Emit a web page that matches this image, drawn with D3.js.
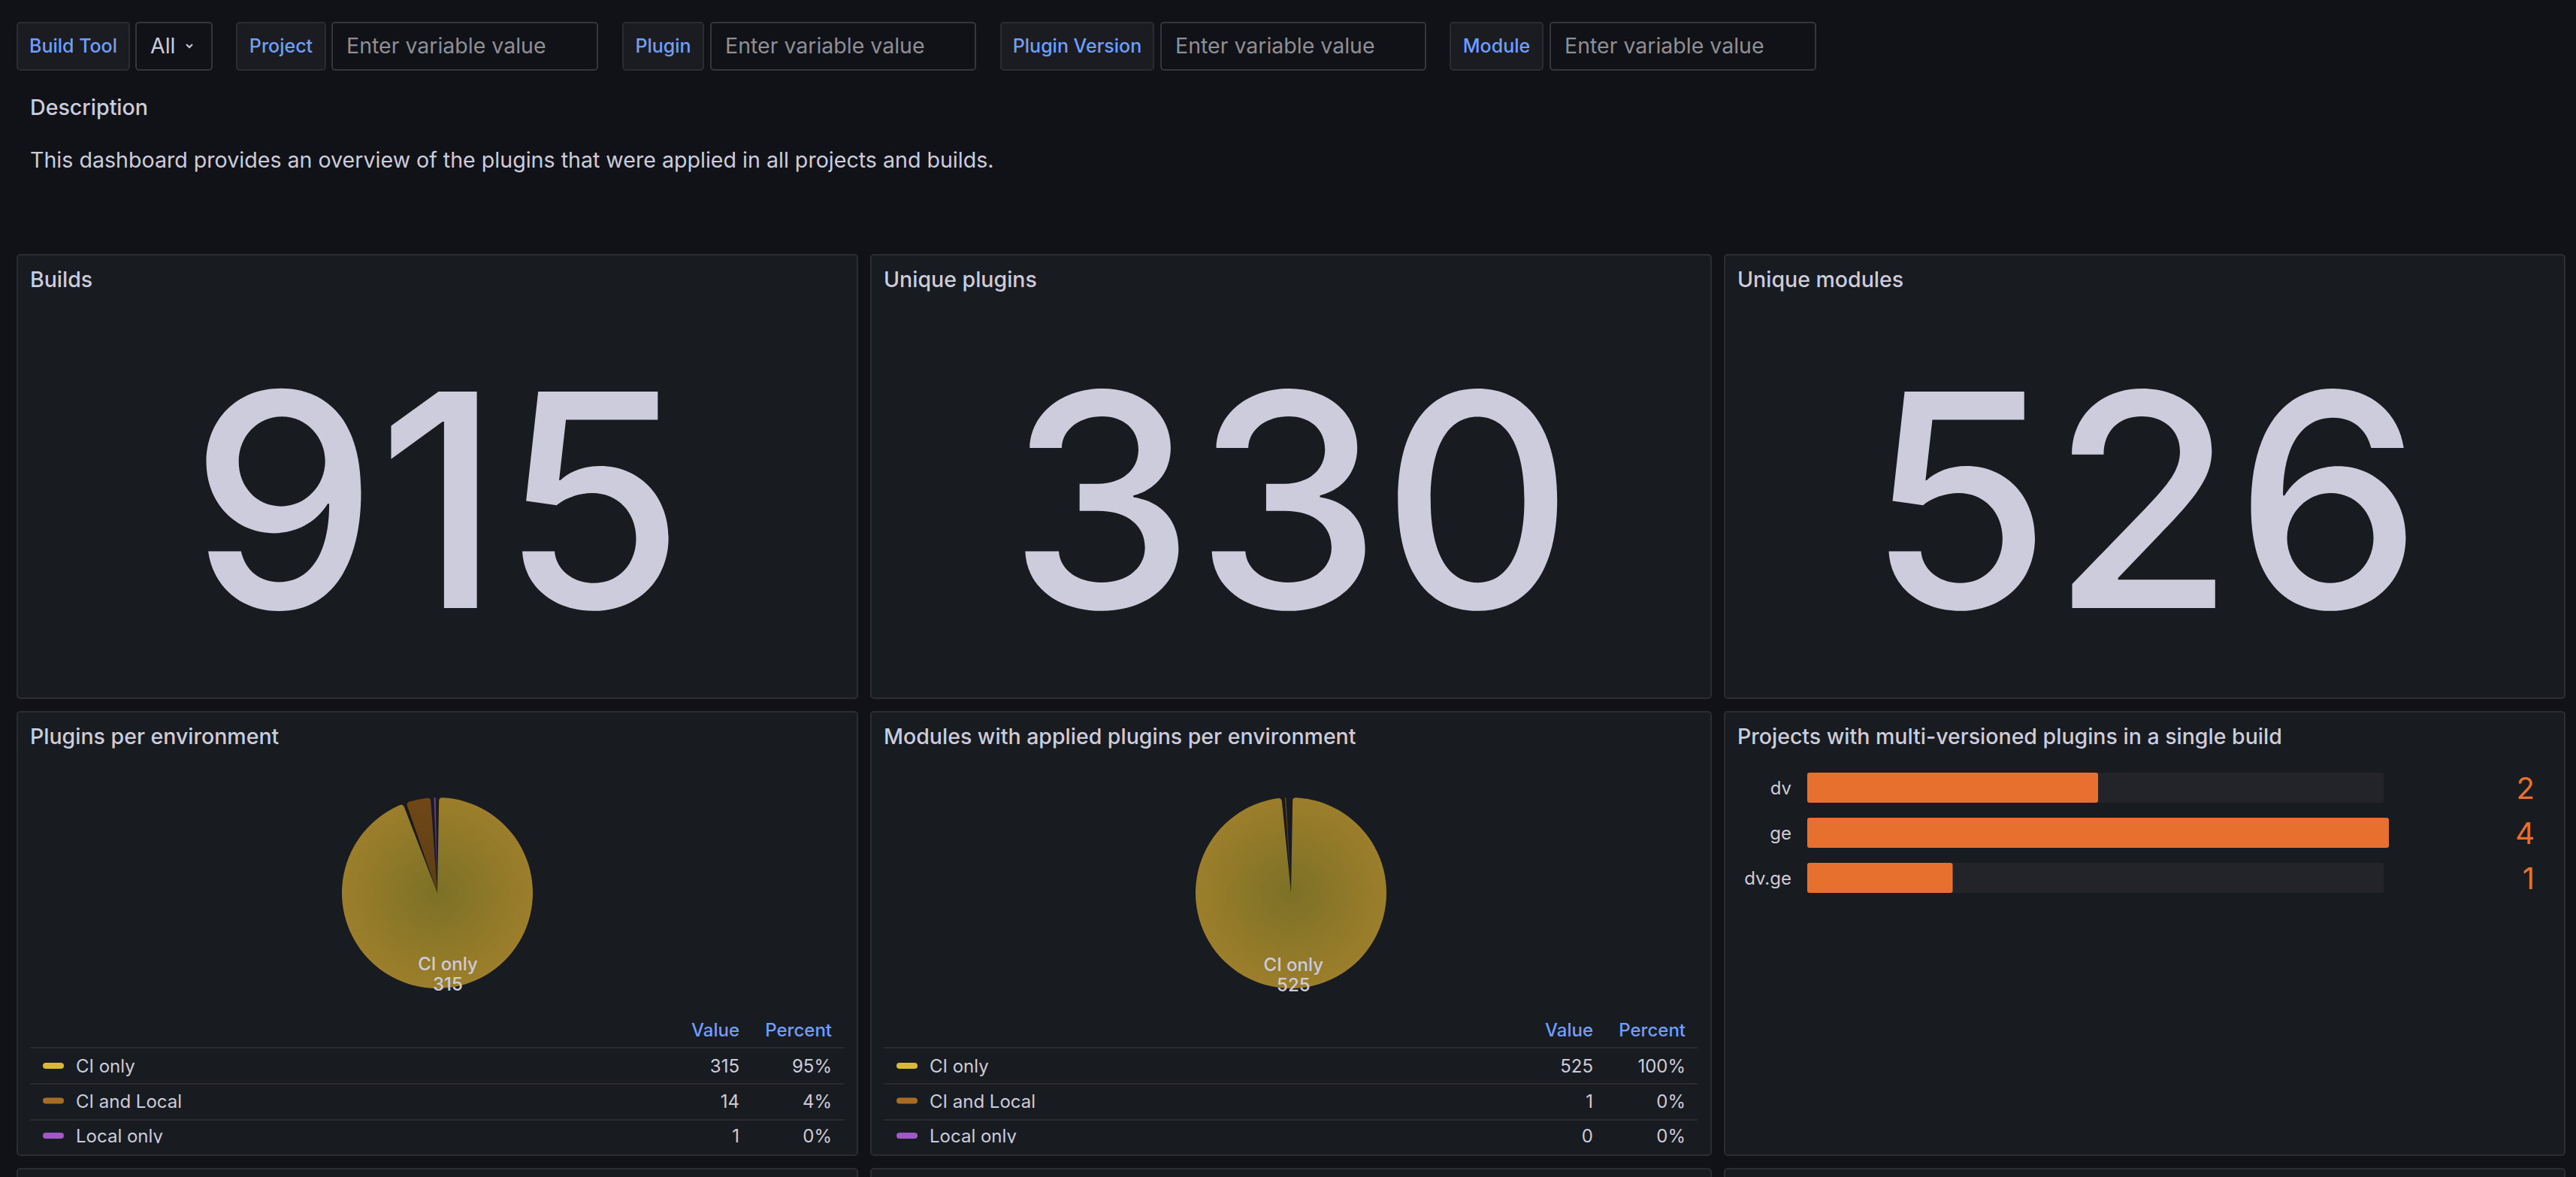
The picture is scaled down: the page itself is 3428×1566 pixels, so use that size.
<!DOCTYPE html>
<html>
<head>
<meta charset="utf-8">
<script src="https://cdn.jsdelivr.net/npm/d3@7"></script>
<style>
  html, body { margin: 0; padding: 0; background: #111217; overflow: hidden; }
  svg { display: block; font-family: Inter, "Noto Sans", sans-serif; }
</style>
</head>
<body>
<script>
// dashboard variables
const varLabels = ["Build Tool", "Project", "Plugin", "Plugin Version", "Module"]
const varValues = ["All", "", "", "", ""]
const placeholder = "Enter variable value"

const descTitle = "Description"
const descText = "This dashboard provides an overview of the plugins that were applied in all projects and builds."

// stat panels
const statTitles = ["Builds", "Unique plugins", "Unique modules"]
const statValues = [915, 330, 526]

// pie panels
const pieTitles = ["Plugins per environment", "Modules with applied plugins per environment"]
const envCategories = ["CI only", "CI and Local", "Local only"]
const pluginsPerEnv = [315, 14, 1]
const modulesPerEnv = [525, 1, 0]

// bar gauge
const barTitle = "Projects with multi-versioned plugins in a single build"
const multiProjects = ["dv", "ge", "dv.ge"]
const multiCounts = [2, 4, 1]

// colours
const envColors = ["#dcb83a", "#a96c25", "#a05ac8"]
const pieCenter = ["#7c7126", "#5b3e15", "#4d2c66"]
const pieEdge = ["#9c7e2b", "#704717", "#6b3a8c"]

const W = 3428, H = 1566
const bg = "#111217", panelBg = "#181b1f", border = "#2b2d33"
const textCol = "#ccccdc", blue = "#6e9fff"

const svg = d3.select("body").append("svg").attr("width", W).attr("height", H)
const defs = svg.append("defs")

// ---- variable bar ----
// label box x / width, input box x / width (layout)
const varLabelX = [23, 315, 829, 1332, 1930], varLabelW = [149, 118, 107, 203, 123]
const varInputX = [181, 442, 946, 1545, 2063], varInputW = [101, 353, 352, 352, 353]
const varg = svg.append("g")
varLabels.forEach((lab, i) => {
    let lg = varg.append("g")
    lg.append("rect").attr("x", varLabelX[i]).attr("y", 30).attr("width", varLabelW[i]).attr("height", 63)
        .attr("rx", 4).attr("fill", "#1b1c21").attr("stroke", "#2b2c31").attr("stroke-width", 2)
    lg.append("text").attr("x", varLabelX[i] + varLabelW[i] / 2).attr("y", 70).attr("text-anchor", "middle")
        .attr("font-size", 25).attr("font-weight", 500).attr("fill", blue).text(lab)
    let ix = varInputX[i], iw = varInputW[i]
    lg.append("rect").attr("x", ix).attr("y", 30).attr("width", iw).attr("height", 63)
        .attr("rx", 4).attr("fill", bg).attr("stroke", "#35363c").attr("stroke-width", 2)
    if (varValues[i] != "") {
        lg.append("text").attr("x", ix + 19).attr("y", 71).attr("font-size", 28.5)
            .attr("fill", textCol).text(varValues[i])
        lg.append("path").attr("d", `M${ix + 67},${59} l4,4 l4,-4`)
            .attr("fill", "none").attr("stroke", textCol).attr("stroke-width", 2)
    } else {
        lg.append("text").attr("x", ix + 19).attr("y", 71).attr("font-size", 28.5)
            .attr("fill", "#8e8e95").text(placeholder)
    }
})

// ---- description ----
svg.append("text").attr("x", 40).attr("y", 153).attr("font-size", 28.6).attr("font-weight", 500)
    .attr("fill", textCol).text(descTitle)
svg.append("text").attr("x", 40).attr("y", 223).attr("font-size", 28.6)
    .attr("fill", textCol).text(descText)

// ---- panels ----
const colX = [23, 1159, 2295], panelW = 1118, panelH = 590
const rowY = [339, 947, 1555]

let panel = (x, y, title) => {
    let g = svg.append("g").attr("transform", `translate(${x},${y})`)
    g.append("rect").attr("x", 0).attr("y", 0).attr("width", panelW).attr("height", panelH)
        .attr("rx", 4).attr("fill", panelBg).attr("stroke", border).attr("stroke-width", 2)
    if (title) {
        g.append("text").attr("x", 17).attr("y", 43).attr("font-size", 28.5).attr("font-weight", 500)
            .attr("fill", textCol).text(title)
    }
    return g
}

// stat panels
statTitles.forEach((t, i) => {
    let g = panel(colX[i], rowY[0], t)
    g.append("text").attr("x", panelW / 2).attr("y", 470).attr("text-anchor", "middle")
        .attr("font-size", 396).attr("font-weight", 500).attr("fill", "#ccccdc")
        .text(statValues[i])
})

// pie panels
let drawPie = (g, values, idx) => {
    let cx = panelW / 2, cy = 241, r = 127
    let total = d3.sum(values)
    let pie = d3.pie().sort(null).padAngle(0.035)
    let arcs = pie(values)
    let arc = d3.arc().innerRadius(0).outerRadius(r).cornerRadius(4)
    let pg = g.append("g").attr("transform", `translate(${cx},${cy})`)
    envColors.forEach((c, j) => {
        let grad = defs.append("radialGradient").attr("id", `pg${idx}_${j}`)
            .attr("gradientUnits", "userSpaceOnUse").attr("cx", 0).attr("cy", 0).attr("r", r)
        grad.append("stop").attr("offset", "0%").attr("stop-color", pieCenter[j])
        grad.append("stop").attr("offset", "100%").attr("stop-color", pieEdge[j])
    })
    pg.selectAll("path").data(arcs).join("path")
        .attr("d", arc)
        .attr("fill", (d, j) => `url(#pg${idx}_${j})`)
    // label of biggest slice
    let big = arcs[d3.maxIndex(values)]
    let la = (big.startAngle + big.endAngle) / 2
    let lr = r * 0.63
    let lx = Math.sin(la) * lr, ly = -Math.cos(la) * lr
    let lab = pg.append("text").attr("text-anchor", "middle").attr("font-size", 24)
        .attr("font-weight", 500).attr("fill", textCol)
    lab.append("tspan").attr("x", lx).attr("y", ly + 24).text(envCategories[big.index])
    lab.append("tspan").attr("x", lx).attr("y", ly + 51).text(values[big.index])

    // legend table
    let clipId = `lc${idx}`
    defs.append("clipPath").attr("id", clipId).append("rect")
        .attr("x", 0).attr("y", 400).attr("width", panelW).attr("height", 174)
    let lg = g.append("g").attr("clip-path", `url(#${clipId})`)
    let valRight = 961, pctRight = 1084
    lg.append("text").attr("x", valRight).attr("y", 432).attr("text-anchor", "end")
        .attr("font-size", 24).attr("font-weight", 500).attr("fill", blue).text("Value")
    lg.append("text").attr("x", pctRight).attr("y", 432).attr("text-anchor", "end")
        .attr("font-size", 24).attr("font-weight", 500).attr("fill", blue).text("Percent")
    let rowScale = d3.scaleLinear().domain([0, 1]).range([480, 526.5])
    let lineY = [447, 495, 543]
    lineY.forEach(y => lg.append("line").attr("x1", 17).attr("x2", 1100)
        .attr("y1", y).attr("y2", y).attr("stroke", "#2a2c31").attr("stroke-width", 2))
    envCategories.forEach((cat, j) => {
        let y = rowScale(j)
        lg.append("rect").attr("x", 34).attr("y", y - 13).attr("width", 28).attr("height", 8)
            .attr("rx", 4).attr("fill", envColors[j])
        lg.append("text").attr("x", 78).attr("y", y).attr("font-size", 24)
            .attr("fill", textCol).text(cat)
        lg.append("text").attr("x", valRight).attr("y", y).attr("text-anchor", "end")
            .attr("font-size", 24).attr("fill", textCol).text(values[j])
        lg.append("text").attr("x", pctRight).attr("y", y).attr("text-anchor", "end")
            .attr("font-size", 24).attr("fill", textCol)
            .text(Math.round(values[j] / total * 100) + "%")
    })
}
drawPie(panel(colX[0], rowY[1], pieTitles[0]), pluginsPerEnv, 0)
drawPie(panel(colX[1], rowY[1], pieTitles[1]), modulesPerEnv, 1)

// bar gauge panel
{
    let g = panel(colX[2], rowY[1], barTitle)
    let y = d3.scaleBand().domain(multiProjects).range([81, 241]).paddingInner(1 / 3).paddingOuter(0)
    let x = d3.scaleLinear().domain([0, d3.max(multiCounts)]).range([0, 774])
    let x0 = 110
    let rows = g.selectAll("g.bar").data(multiProjects).join("g").attr("class", "bar")
        .attr("transform", d => `translate(0,${y(d)})`)
    rows.append("rect").attr("x", x0).attr("y", 0).attr("width", 767).attr("height", y.bandwidth())
        .attr("rx", 3).attr("fill", "#232429")
    rows.append("rect").attr("x", x0).attr("y", 0)
        .attr("width", (d, i) => x(multiCounts[i])).attr("height", y.bandwidth())
        .attr("rx", 3).attr("fill", "#e8702e")
    rows.append("text").attr("x", 89).attr("y", y.bandwidth() / 2 + 8.7).attr("text-anchor", "end")
        .attr("font-size", 24).attr("fill", textCol).text(d => d)
    rows.append("text").attr("x", 1078).attr("y", y.bandwidth() / 2 + 14.5).attr("text-anchor", "end")
        .attr("font-size", 40).attr("fill", "#e8702e").text((d, i) => multiCounts[i])
}

// next row, cut off by the window
colX.forEach(x => panel(x, rowY[2], null))
</script>
</body>
</html>
